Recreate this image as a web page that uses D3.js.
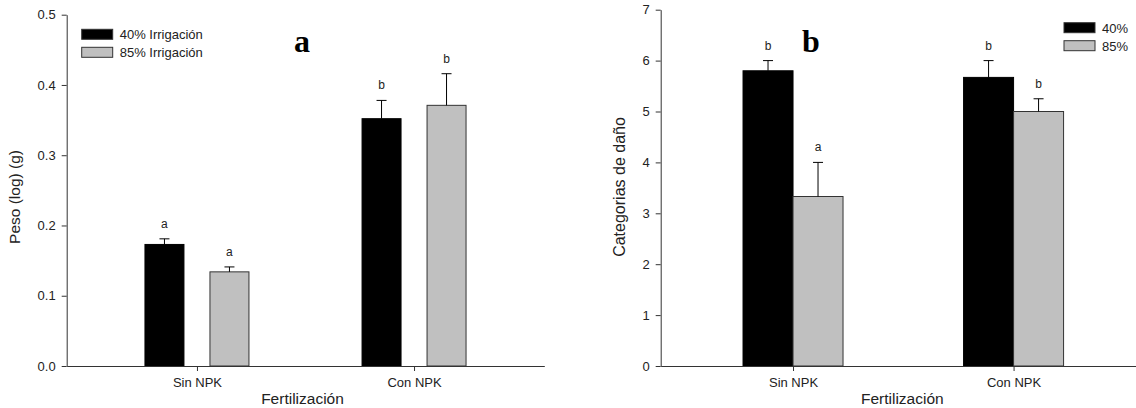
<!DOCTYPE html>
<html>
<head>
<meta charset="utf-8">
<style>
  body { margin: 0; background: #fff; }
  svg { display: block; font-family: "Liberation Sans", Arial, sans-serif; }
  .axis path, .axis line { stroke: #333; }
  .axis text { fill: #222; font-size: 13px; font-family: "Liberation Sans", Arial, sans-serif; }
</style>
</head>
<body>
<svg width="1136" height="408"></svg>
<script src="https://d3js.org/d3.v7.min.js"></script>
<script>

// data
var categories = ["Sin NPK", "Con NPK"];

// panel a: peso
var seriesA = ["40% Irrigación", "85% Irrigación"];
var pesoMean40 = [0.173, 0.352];
var pesoErr40  = [0.008, 0.026];
var pesoMean85 = [0.134, 0.371];
var pesoErr85  = [0.007, 0.045];
var pesoLetters40 = ["a", "b"];
var pesoLetters85 = ["a", "b"];
var pesoTicks = [0, 0.1, 0.2, 0.3, 0.4, 0.5];

// panel b: categorias de daño
var seriesB = ["40%", "85%"];
var danoMean40 = [5.80, 5.67];
var danoErr40  = [0.20, 0.33];
var danoMean85 = [3.33, 5.00];
var danoErr85  = [0.67, 0.25];
var danoLetters40 = ["b", "b"];
var danoLetters85 = ["a", "b"];
var danoTicks = [0, 1, 2, 3, 4, 5, 6, 7];

var colors = ["#000000", "#c0c0c0"];

var svg = d3.select("svg");

function panel(o) {
  var g = svg.append("g");

  var x = d3.scalePoint().domain(categories).range(o.xRange).padding(0.6);
  var y = d3.scaleLinear().domain(o.yDomain).range([366, o.yTop]);
  var inner = d3.scaleBand().domain(o.series).range(o.inner).paddingInner(o.pad);

  var rows = [];
  categories.forEach(function(c, i) {
    o.means.forEach(function(m, s) {
      rows.push({cat: c, ser: o.series[s], s: s, v: m[i], e: o.errs[s][i], l: o.letters[s][i]});
    });
  });

  // bars
  g.selectAll("rect.bar").data(rows).enter().append("rect")
      .attr("class", "bar")
      .attr("x", function(d) { return x(d.cat) + inner(d.ser); })
      .attr("y", function(d) { return y(d.v); })
      .attr("width", inner.bandwidth())
      .attr("height", function(d) { return y(0) - y(d.v); })
      .attr("fill", function(d) { return colors[d.s]; })
      .attr("stroke", function(d) { return d.s ? "#333" : "#000"; })
      .attr("stroke-width", 1);

  // error bars (upper only)
  var eb = g.selectAll("g.err").data(rows).enter().append("g").attr("class", "err")
      .attr("transform", function(d) { return "translate(" + (x(d.cat) + inner(d.ser) + inner.bandwidth() / 2) + ",0)"; });
  eb.append("line")
      .attr("x1", 0).attr("x2", 0)
      .attr("y1", function(d) { return y(d.v); })
      .attr("y2", function(d) { return y(d.v + d.e); })
      .attr("stroke", "#000");
  eb.append("line")
      .attr("x1", -5).attr("x2", 5)
      .attr("y1", function(d) { return y(d.v + d.e); })
      .attr("y2", function(d) { return y(d.v + d.e); })
      .attr("stroke", "#000");
  eb.append("text")
      .attr("y", function(d) { return y(d.v + d.e) - 11; })
      .attr("text-anchor", "middle")
      .attr("font-size", "12px")
      .attr("fill", "#222")
      .text(function(d) { return d.l; });

  // axes
  g.append("g").attr("class", "axis")
      .attr("transform", "translate(" + o.xRange[0] + ",0)")
      .call(d3.axisLeft(y).tickValues(o.ticks).tickFormat(o.fmt).tickSize(5).tickSizeOuter(0).tickPadding(6));
  g.append("g").attr("class", "axis")
      .attr("transform", "translate(0,366)")
      .call(d3.axisBottom(x).tickSize(5).tickSizeOuter(0).tickPadding(7));

  // axis titles
  g.append("text")
      .attr("x", (o.xRange[0] + o.xRange[1]) / 2 + o.xTitleShift)
      .attr("y", 404)
      .attr("text-anchor", "middle")
      .attr("font-size", "15.5px")
      .attr("fill", "#222")
      .text("Fertilización");
  g.append("text")
      .attr("transform", "translate(" + o.yTitleX + "," + o.yTitleY + ") rotate(-90)")
      .attr("text-anchor", "middle")
      .attr("font-size", o.yTitleSize)
      .attr("fill", "#222")
      .text(o.yTitle);

  // panel letter
  g.append("text")
      .attr("x", o.tag[0]).attr("y", o.tag[1])
      .attr("text-anchor", "middle")
      .attr("font-family", "'Liberation Serif', 'Times New Roman', serif")
      .attr("font-weight", "bold")
      .attr("font-size", "32px")
      .attr("fill", "#000")
      .text(o.tagText);

  // legend
  var lg = g.selectAll("g.leg").data(o.series).enter().append("g").attr("class", "leg")
      .attr("transform", function(d, i) { return "translate(" + o.leg[0] + "," + (o.leg[1] + i * o.leg[2]) + ")"; });
  lg.append("rect")
      .attr("width", 31).attr("height", 10)
      .attr("fill", function(d, i) { return colors[i]; })
      .attr("stroke", "#333");
  lg.append("text")
      .attr("x", 38).attr("y", 10)
      .attr("font-size", "13px")
      .attr("fill", "#222")
      .text(function(d) { return d; });
}

panel({
  xRange: [66.7, 544.3], yDomain: [0, 0.5], yTop: 14.7,
  series: seriesA, inner: [-52, 52], pad: 0.4,
  means: [pesoMean40, pesoMean85], errs: [pesoErr40, pesoErr85],
  letters: [pesoLetters40, pesoLetters85],
  ticks: pesoTicks, fmt: d3.format(".1f"),
  xTitleShift: -3, yTitle: "Peso (log) (g)", yTitleX: 20, yTitleY: 197, yTitleSize: "15.5px",
  tag: [302, 52], tagText: "a",
  leg: [81.7, 29.3, 18]
});

panel({
  xRange: [660.7, 1145.9], yDomain: [0, 7], yTop: 9.7,
  series: seriesB, inner: [-50, 50], pad: 0,
  means: [danoMean40, danoMean85], errs: [danoErr40, danoErr85],
  letters: [danoLetters40, danoLetters85],
  ticks: danoTicks, fmt: d3.format("d"),
  xTitleShift: -1, yTitle: "Categorias de daño", yTitleX: 625, yTitleY: 187, yTitleSize: "16px",
  tag: [811, 52], tagText: "b",
  leg: [1064, 22.7, 18]
});

</script>
</body>
</html>
